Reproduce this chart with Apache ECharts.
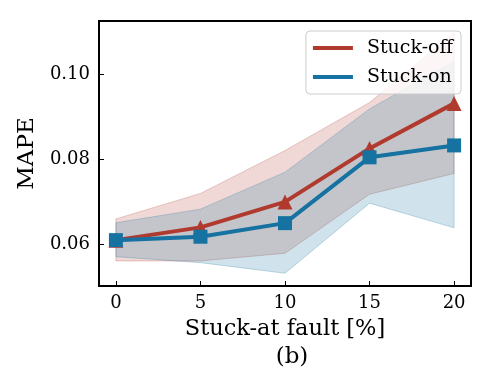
<!DOCTYPE html>
<html>
<head>
<meta charset="utf-8">
<script src="https://cdn.jsdelivr.net/npm/echarts@6/dist/echarts.min.js"></script>
<style>
  html, body { margin: 0; padding: 0; background: #fff; }
  #main { width: 491px; height: 392px; }
</style>
</head>
<body>
<div id="main"></div>
<script>
// data
const faultRates = [0, 5, 10, 15, 20];
const offMean = [0.0610, 0.0640, 0.0700, 0.0826, 0.0932];
const offUpper = [0.0660, 0.0720, 0.0821, 0.0934, 0.1098];
const offLower = [0.0561, 0.0561, 0.0579, 0.0718, 0.0767];
const onMean = [0.0610, 0.0618, 0.0650, 0.0805, 0.0833];
const onUpper = [0.0651, 0.0683, 0.0770, 0.0919, 0.1031];
const onLower = [0.0571, 0.0557, 0.0532, 0.0697, 0.0639];
const xTicks = [0, 5, 10, 15, 20];
const yTicks = [0.06, 0.08, 0.10];

const RED = "#b03a2e";
const BLUE = "#1672a0";
const FONT = "DejaVu Serif";

const pairs = (ys) => faultRates.map((x, i) => [x, ys[i]]);

// shaded band between lower and upper, drawn as one polygon through the axes
function band(name, lo, hi, fill, edge) {
  return {
    name: name, type: "custom", silent: true, z: 1,
    data: [[faultRates[0], lo[0]]],
    renderItem: (params, api) => {
      const top = faultRates.map((x, i) => api.coord([x, hi[i]]));
      const bottom = faultRates.map((x, i) => api.coord([x, lo[i]])).reverse();
      return {
        type: "polygon",
        shape: { points: top.concat(bottom) },
        style: { fill: fill, stroke: edge, lineWidth: 1 }
      };
    }
  };
}

let myChart = echarts.init(document.getElementById("main"));
let option = {
  animation: false,
  textStyle: { fontFamily: FONT },
  title: {
    text: "(b)",
    left: 287, top: 341, textAlign: "center",
    textStyle: { fontFamily: FONT, fontSize: 23, fontWeight: "normal", color: "#000" }
  },
  legend: {
    data: [
      { name: "Stuck-off", icon: "rect" },
      { name: "Stuck-on", icon: "rect" }
    ],
    orient: "vertical",
    right: 30, top: 31,
    itemWidth: 40, itemHeight: 4, itemGap: 9,
    padding: [7, 8, 7, 7],
    backgroundColor: "rgba(255,255,255,0.8)",
    borderColor: "#cccccc", borderWidth: 1, borderRadius: 4,
    textStyle: { fontFamily: FONT, fontSize: 19, lineHeight: 20, color: "#000", padding: [0, 0, 0, 9] }
  },
  grid: {
    left: 99, right: 20, top: 21, bottom: 106,
    show: true, borderColor: "#000", borderWidth: 2, backgroundColor: "transparent"
  },
  xAxis: {
    type: "value", min: -1, max: 21,
    name: "Stuck-at fault [%]", nameLocation: "middle", nameGap: 32,
    nameTextStyle: { fontFamily: FONT, fontSize: 22.5, color: "#000" },
    axisLine: { onZero: false, lineStyle: { color: "#000", width: 2 } },
    axisTick: { inside: true, length: 5, customValues: xTicks, lineStyle: { color: "#000", width: 1 } },
    axisLabel: { customValues: xTicks, fontFamily: FONT, fontSize: 18, color: "#000", margin: 8 },
    splitLine: { show: false }
  },
  yAxis: {
    type: "value", min: 0.0502, max: 0.1126,
    name: "MAPE", nameLocation: "middle", nameGap: 53, nameRotate: 90,
    nameTextStyle: { fontFamily: FONT, fontSize: 23, color: "#000" },
    axisLine: { show: true, onZero: false, lineStyle: { color: "#000", width: 2 } },
    axisTick: { show: true, inside: true, length: 5, customValues: yTicks, lineStyle: { color: "#000", width: 1 } },
    axisLabel: {
      customValues: yTicks, fontFamily: FONT, fontSize: 18, color: "#000", margin: 9,
      formatter: (v) => v.toFixed(2)
    },
    splitLine: { show: false }
  },
  series: [
    band("off-band", offLower, offUpper, "rgba(176,58,46,0.2)", "rgba(176,58,46,0.25)"),
    band("on-band", onLower, onUpper, "rgba(22,114,160,0.2)", "rgba(22,114,160,0.25)"),
    {
      name: "Stuck-off", type: "line", data: pairs(offMean), z: 3,
      symbol: "triangle", symbolSize: 15,
      itemStyle: { color: RED }, lineStyle: { color: RED, width: 4 }
    },
    {
      name: "Stuck-on", type: "line", data: pairs(onMean), z: 4,
      symbol: "rect", symbolSize: 14,
      itemStyle: { color: BLUE }, lineStyle: { color: BLUE, width: 4 }
    }
  ]
};
myChart.setOption(option);
</script>
</body>
</html>
